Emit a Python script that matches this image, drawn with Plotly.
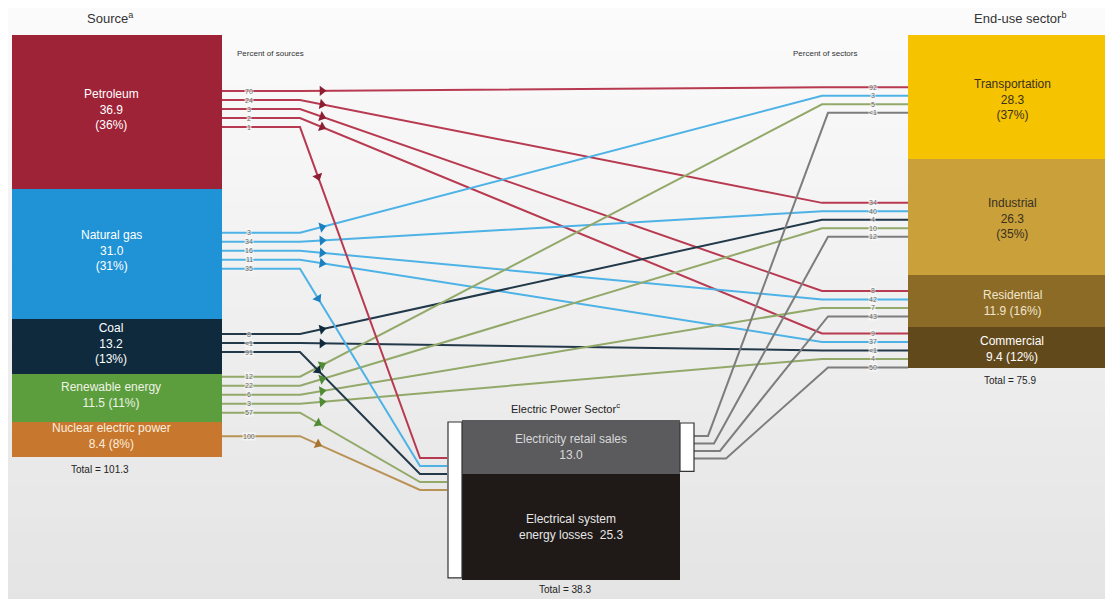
import math
import plotly.graph_objects as go

# ---------------------------------------------------------------------------
# data (quadrillion Btu)
# ---------------------------------------------------------------------------
sources = ["Petroleum", "Natural gas", "Coal", "Renewable energy", "Nuclear electric power"]
source_quads = [36.9, 31.0, 13.2, 11.5, 8.4]
source_share = [36, 31, 13, 11, 8]
source_total = 101.3

sectors = ["Transportation", "Industrial", "Residential", "Commercial"]
sector_quads = [28.3, 26.3, 11.9, 9.4]
sector_share = [37, 35, 16, 12]
sector_total = 75.9

elec_retail = 13.0
elec_losses = 25.3
elec_total = 38.3

# percent of each source sent to: Transportation, Industrial, Residential, Commercial, Electric power
pct_of_source = [
    ["70", "24", "3", "2", "1"],
    ["3", "34", "16", "11", "35"],
    [None, "8", None, "&lt;1", "91"],
    ["12", "22", "6", "3", "57"],
    [None, None, None, None, "100"],
]
# percent of each sector supplied by: Petroleum, Natural gas, Coal, Renewable energy, Electricity
pct_of_sector = [
    ["92", "3", None, "5", "&lt;1"],
    ["34", "40", "4", "10", "12"],
    ["8", "42", None, "7", "43"],
    ["9", "37", "&lt;1", "4", "50"],
]

# ---------------------------------------------------------------------------
# styling / layout constants
# ---------------------------------------------------------------------------
W, H = 1113, 599
OFF = 8  # page body margin, so axis units == window pixels
FONT = "Liberation Sans, Arial, sans-serif"

src_colors = ["#9E2337", "#1F93D6", "#0F2A3D", "#5C9E3D", "#C8772E"]
src_line_colors = ["#B83A50", "#4DB2E6", "#22394A", "#93A96A", "#B99255"]
src_arrow_colors = ["#8E1F33", "#1B7FC0", "#0F2A3D", "#4F8A34", "#A8732E"]
src_text_colors = ["white", "white", "white", "#EEF3E6", "#F8EEDD"]
sec_colors = ["#F6C300", "#C9A03A", "#8C6B26", "#62491B"]
sec_text_colors = ["#3A3020", "#3A3020", "#F1E6CC", "white"]
elec_line_color = "#7D7D7D"

L_X0, L_X1 = 12, 222
R_X0, R_X1 = 908, 1113
TOP = 35
L_SCALE = 423 / source_total
R_SCALE = 333 / sector_total
BOX_X0, BOX_X1, BOX_TOP = 462, 680, 420
STEP = 9
BEND_L, BEND_R = 300, 822
ARROW_X = 322

fig = go.Figure()

# ---------------------------------------------------------------------------
# column geometry from values
# ---------------------------------------------------------------------------
src_top, src_h = [], []
y = TOP
for q in source_quads:
    src_top.append(y)
    src_h.append(q * L_SCALE)
    y += q * L_SCALE
src_bottom = y

sec_top, sec_h = [], []
y = TOP
for q in sector_quads:
    sec_top.append(y)
    sec_h.append(q * R_SCALE)
    y += q * R_SCALE
sec_bottom = y

retail_h = elec_retail * L_SCALE
loss_h = elec_losses * L_SCALE
box_bottom = BOX_TOP + retail_h + loss_h

# line y-positions on the source side
src_line_y = {}
for i in range(len(sources)):
    dests = [k for k, v in enumerate(pct_of_source[i]) if v is not None]
    c = src_top[i] + src_h[i] / 2 - 3
    for m, k in enumerate(dests):
        src_line_y[(i, k)] = c + (m - (len(dests) - 1) / 2) * STEP

# line y-positions on the sector side
sec_line_y = {}
for j in range(len(sectors)):
    origs = [s for s, v in enumerate(pct_of_sector[j]) if v is not None]
    c = sec_top[j] + sec_h[j] / 2 + 3
    for m, s in enumerate(origs):
        sec_line_y[(j, s)] = c + (m - (len(origs) - 1) / 2) * 8.5

# electric power inputs / outputs
elec_in = [i for i in range(len(sources)) if pct_of_source[i][4] is not None]
elec_in_y = {i: BOX_TOP + 38 + m * 8 for m, i in enumerate(elec_in)}
elec_out = [j for j in range(len(sectors)) if pct_of_sector[j][4] is not None]
elec_out_y = {j: BOX_TOP + retail_h / 2 + (m - (len(elec_out) - 1) / 2) * 7.5 for m, j in enumerate(elec_out)}

arrows_x, arrows_y, arrows_ang, arrows_col = [], [], [], []


def add_path(xs, ys, color):
    fig.add_trace(go.Scatter(
        x=xs, y=ys, mode="lines", line=dict(color=color, width=2, simplify=False),
        hoverinfo="skip", showlegend=False,
    ))


def add_arrow(x0, y0, x1, y1, at_x, color):
    ya = y0 + (y1 - y0) * (at_x - x0) / (x1 - x0)
    arrows_x.append(at_x)
    arrows_y.append(ya)
    arrows_ang.append(math.degrees(math.atan2(x1 - x0, -(y1 - y0))))
    arrows_col.append(color)


# ---------------------------------------------------------------------------
# bars
# ---------------------------------------------------------------------------
for i, name in enumerate(sources):
    fig.add_trace(go.Bar(x=[(L_X0 + L_X1) / 2], y=[src_h[i]], base=[src_top[i]], width=L_X1 - L_X0,
                         marker=dict(color=src_colors[i], line=dict(width=0)),
                         hoverinfo="skip", showlegend=False))
for j, name in enumerate(sectors):
    fig.add_trace(go.Bar(x=[(R_X0 + R_X1) / 2], y=[sec_h[j]], base=[sec_top[j]], width=R_X1 - R_X0,
                         marker=dict(color=sec_colors[j], line=dict(width=0)),
                         hoverinfo="skip", showlegend=False))
fig.add_trace(go.Bar(x=[(BOX_X0 + BOX_X1) / 2], y=[retail_h], base=[BOX_TOP], width=BOX_X1 - BOX_X0,
                     marker=dict(color="#5B5B5E", line=dict(width=0)), hoverinfo="skip", showlegend=False))
fig.add_trace(go.Bar(x=[(BOX_X0 + BOX_X1) / 2], y=[loss_h], base=[BOX_TOP + retail_h], width=BOX_X1 - BOX_X0,
                     marker=dict(color="#1F1A17", line=dict(width=0)), hoverinfo="skip", showlegend=False))

# source -> end-use sector flows
for i in range(len(sources)):
    for j in range(len(sectors)):
        if pct_of_source[i][j] is None:
            continue
        ys, yt = src_line_y[(i, j)], sec_line_y[(j, i)]
        add_path([L_X1, BEND_L, BEND_R, R_X0], [ys, ys, yt, yt], src_line_colors[i])
        add_arrow(BEND_L, ys, BEND_R, yt, ARROW_X, src_arrow_colors[i])

# source -> electric power flows
for i in elec_in:
    ys, ye = src_line_y[(i, 4)], elec_in_y[i]
    add_path([L_X1, BEND_L, 420, 447], [ys, ys, ye, ye], src_line_colors[i])
    add_arrow(BEND_L, ys, 420, ye, 318, src_arrow_colors[i])

# electric power -> sectors
for m, j in enumerate(elec_out):
    ye, yt = elec_out_y[j], sec_line_y[(j, 4)]
    bx = 708 + m * 6
    add_path([694, bx, BEND_R + 6, R_X0], [ye, ye, yt, yt], elec_line_color)

# arrowheads
fig.add_trace(go.Scatter(
    x=arrows_x, y=arrows_y, mode="markers",
    marker=dict(symbol="triangle-up", size=9, angle=arrows_ang, color=arrows_col, line=dict(width=0)),
    hoverinfo="skip", showlegend=False,
))

# background gradient bands (below everything)
shapes = []
NB = 40
for b in range(NB):
    t = b / (NB - 1)
    g = int(round(251 - (251 - 228) * t))
    shapes.append(dict(type="rect", xref="paper", yref="paper", x0=0, x1=1,
                       y0=1 - (b + 1) / NB, y1=1 - b / NB + 0.001,
                       fillcolor=f"rgb({g},{g},{g})", line=dict(width=0), layer="below"))

shapes += [
    dict(type="rect", x0=448, x1=BOX_X0, y0=BOX_TOP + 2, y1=box_bottom - 2,
         fillcolor="white", line=dict(color="#333", width=1.2), layer="above"),
    dict(type="rect", x0=BOX_X1, x1=694, y0=BOX_TOP + 3, y1=BOX_TOP + retail_h - 3,
         fillcolor="white", line=dict(color="#333", width=1.2), layer="above"),
]

# ---------------------------------------------------------------------------
# text
# ---------------------------------------------------------------------------
ann = []


def text(x, y, s, size=12, color="#333", bg=None, **kw):
    d = dict(x=x, y=y, text=s, showarrow=False, font=dict(family=FONT, size=size, color=color), **kw)
    if bg:
        d["bgcolor"] = bg
        d["borderpad"] = 0
    ann.append(d)


text(110, 18, "Source<sup>a</sup>", 13, "#333")
text(1020, 18, "End-use sector<sup>b</sup>", 13, "#333")
text(270, 53, "Percent of sources", 8, "#333")
text(825, 53, "Percent of sectors", 8, "#333")
text(565, 408, "Electric Power Sector<sup>c</sup>", 11, "#222")

src_labels = [
    f"{sources[0]}<br>{source_quads[0]}<br>({source_share[0]}%)",
    f"{sources[1]}<br>{source_quads[1]}<br>({source_share[1]}%)",
    f"{sources[2]}<br>{source_quads[2]}<br>({source_share[2]}%)",
    f"{sources[3]}<br>{source_quads[3]} ({source_share[3]}%)",
    f"{sources[4]}<br>{source_quads[4]} ({source_share[4]}%)",
]
for i, s in enumerate(src_labels):
    text((L_X0 + L_X1) / 2 - 6, src_top[i] + src_h[i] / 2 - 3, s, 12, src_text_colors[i])

sec_labels = [
    f"{sectors[0]}<br>{sector_quads[0]}<br>({sector_share[0]}%)",
    f"{sectors[1]}<br>{sector_quads[1]}<br>({sector_share[1]}%)",
    f"{sectors[2]}<br>{sector_quads[2]} ({sector_share[2]}%)",
    f"{sectors[3]}<br>{sector_quads[3]} ({sector_share[3]}%)",
]
for j, s in enumerate(sec_labels):
    text(1012, sec_top[j] + sec_h[j] / 2 + 2, s, 12, sec_text_colors[j])

text(100, src_bottom + 13, f"Total = {source_total}", 10, "#222")
text(1010, sec_bottom + 12, f"Total = {sector_total}", 10, "#222")
text(565, box_bottom + 10, f"Total = {elec_total}", 10, "#222")

text((BOX_X0 + BOX_X1) / 2, BOX_TOP + retail_h / 2, f"Electricity retail sales<br>{elec_retail}", 12, "#D8D8D8")
text((BOX_X0 + BOX_X1) / 2, BOX_TOP + retail_h + loss_h / 2, f"Electrical system<br>energy losses  {elec_losses}", 12, "#E6E6E6")

# percent labels on the lines
for (i, k), yv in src_line_y.items():
    text(249, yv, pct_of_source[i][k], 7, "#666", bg="rgba(250,250,250,0.65)")
for (j, s), yv in sec_line_y.items():
    text(873, yv, pct_of_sector[j][s], 7, "#666", bg="rgba(250,250,250,0.65)")

fig.update_layout(
    width=W, height=H, margin=dict(l=0, r=0, t=0, b=0),
    paper_bgcolor="#F4F4F4", plot_bgcolor="rgba(0,0,0,0)",
    barmode="overlay", bargap=0,
    xaxis=dict(range=[OFF, W + OFF], visible=False, fixedrange=True),
    yaxis=dict(range=[H + OFF, OFF], visible=False, fixedrange=True),
    shapes=shapes, annotations=ann, showlegend=False,
)

fig.write_html("out.html")
